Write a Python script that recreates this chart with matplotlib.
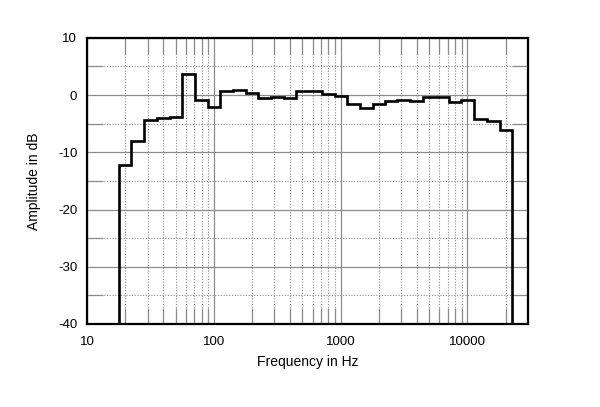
import numpy as np
import matplotlib
matplotlib.use("Agg")
import matplotlib.pyplot as plt
from matplotlib.ticker import FixedLocator, FixedFormatter, NullFormatter

plt.rcParams['font.family'] = ['Liberation Sans', 'DejaVu Sans']
plt.rcParams['axes.unicode_minus'] = False

# 1/3-octave band centres (Hz) and levels (dB)
band_centres = [20, 25, 31.5, 40, 50, 63, 80, 100, 125, 160, 200, 250, 315, 400,
                500, 630, 800, 1000, 1250, 1600, 2000, 2500, 3150, 4000, 5000,
                6300, 8000, 10000, 12500, 16000, 20000]
levels_db = [-12.2, -8.1, -4.4, -4.0, -3.8, 3.7, -0.8, -2.1, 0.7, 0.85, 0.3,
             -0.45, -0.25, -0.45, 0.7, 0.7, 0.2, -0.1, -1.5, -2.3, -1.5, -1.1,
             -0.85, -1.0, -0.35, -0.25, -1.2, -0.85, -4.2, -4.6, -6.1]

x_major = [10, 100, 1000, 10000]
x_major_labels = ["10", "100", "1000", "10000"]
y_major = [10, 0, -10, -20, -30, -40]
y_major_labels = ["10", "0", "-10", "-20", "-30", "-40"]

centres = np.array(band_centres, dtype=float)
# band edges: geometric midpoints between 1/3-octave centres
edges = np.concatenate([centres[:1] * 2 ** (-1 / 6),
                        np.sqrt(centres[:-1] * centres[1:]),
                        centres[-1:] * 2 ** (1 / 6)])

fig = plt.figure(figsize=(6.0, 4.07), dpi=100)
ax = fig.add_axes([0.145, 0.204, 0.735, 0.703])

ax.set_xscale('log')
ax.set_xlim(10, 30000)
ax.set_ylim(-40, 10)

gray = '#8c8c8c'
# grid
ax.xaxis.set_major_locator(FixedLocator(x_major))
ax.xaxis.set_major_formatter(FixedFormatter(x_major_labels))
minors_x = [m * d for d in [10, 100, 1000, 10000] for m in range(2, 10) if m * d < 30000]
ax.xaxis.set_minor_locator(FixedLocator(minors_x))
ax.xaxis.set_minor_formatter(NullFormatter())
ax.yaxis.set_major_locator(FixedLocator(y_major))
ax.yaxis.set_major_formatter(FixedFormatter(y_major_labels))
ax.yaxis.set_minor_locator(FixedLocator([5, -5, -15, -25, -35]))

ax.grid(which='major', color=gray, linestyle='-', linewidth=0.9)
ax.grid(which='minor', color=gray, linestyle=(0, (1, 1.5)), linewidth=0.8)
ax.set_axisbelow(True)

ax.tick_params(which='major', length=0, labelsize=9.5)
ax.tick_params(axis='x', which='major', pad=9)
ax.tick_params(axis='y', which='major', pad=7)
ax.tick_params(which='minor', direction='in', length=11.5, width=0.9, color=gray,
               top=True, right=True, bottom=True, left=True)

ax.stairs(levels_db, edges, baseline=-40, color='black', linewidth=1.9, zorder=3)

for s in ax.spines.values():
    s.set_linewidth(1.6)
    s.set_color('black')
    s.set_zorder(4)

ax.set_xlabel('Frequency in Hz', fontsize=10, labelpad=5)
ax.set_ylabel('Amplitude in dB', fontsize=10, labelpad=12)

fig.savefig('out.png', dpi=100)
